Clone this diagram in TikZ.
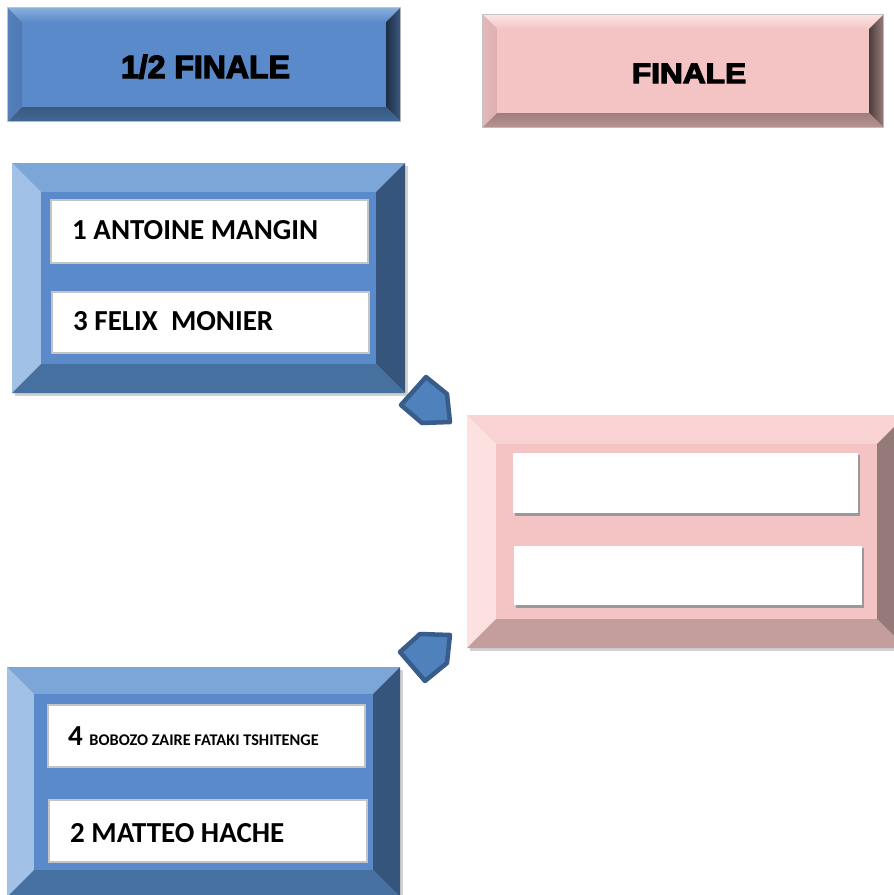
\documentclass[tikz,border=0pt]{standalone}
\usepackage{fontspec}
\setmainfont{Carlito}
\newfontfamily\blackfont{Liberation Sans Bold}[FakeBold=4]
\newcommand\bev[5]{%
 \fill[bvT] (#1,#2) -- (#3,#2) -- ({#3-#5},{#2+#5}) -- ({#1+#5},{#2+#5}) -- cycle;
 \fill[bvL] (#1,#2) -- ({#1+#5},{#2+#5}) -- ({#1+#5},{#4-#5}) -- (#1,#4) -- cycle;
 \fill[bvR] (#3,#2) -- (#3,#4) -- ({#3-#5},{#4-#5}) -- ({#3-#5},{#2+#5}) -- cycle;
 \fill[bvB] (#1,#4) -- (#3,#4) -- ({#3-#5},{#4-#5}) -- ({#1+#5},{#4-#5}) -- cycle;
 \fill[bvF] ({#1+#5},{#2+#5}) rectangle ({#3-#5},{#4-#5});
}
\newcommand\hbev[5]{%
 \shade[top color=bvT, bottom color=bvF] (#1,#2) -- (#3,#2) -- ({#3-#5},{#2+#5}) -- ({#1+#5},{#2+#5}) -- cycle;
 \shade[left color=bvL!60!bvF, right color=bvL] (#1,#2) -- ({#1+#5},{#2+#5}) -- ({#1+#5},{#4-#5}) -- (#1,#4) -- cycle;
 \shade[left color=bvR, right color=bvR!55!bvF] (#3,#2) -- (#3,#4) -- ({#3-#5},{#4-#5}) -- ({#3-#5},{#2+#5}) -- cycle;
 \shade[top color=bvB, bottom color=bvB!70!bvF] (#1,#4) -- (#3,#4) -- ({#3-#5},{#4-#5}) -- ({#1+#5},{#4-#5}) -- cycle;
 \fill[bvF] ({#1+#5},{#2+#5}) rectangle ({#3-#5},{#4-#5});
}
\definecolor{blueF}{HTML}{5A8ACA}
\definecolor{blueT}{HTML}{7BA6D7}
\definecolor{blueL}{HTML}{A2C1E6}
\definecolor{blueR}{HTML}{35557C}
\definecolor{blueB}{HTML}{45709F}
\definecolor{pinkF}{HTML}{F4C4C4}
\definecolor{pinkT}{HTML}{F9D3D3}
\definecolor{pinkL}{HTML}{FDE1E1}
\definecolor{pinkR}{HTML}{957A7A}
\definecolor{pinkB}{HTML}{C49D9D}
\definecolor{pentF}{HTML}{4F81BD}
\definecolor{pentD}{HTML}{385D8A}
\definecolor{frameG}{HTML}{C4C4C4}
\tikzset{
  wbox/.style={fill=white, draw=frameG, line width=1.5pt},
  nmtext/.style={anchor=base west, inner sep=0pt, font=\fontsize{29}{31}\selectfont\bfseries},
  hdtext/.style={anchor=base, inner sep=0pt},
  pent/.style={fill=pentF, draw=pentD, line width=4.5pt, line join=round},
  gshadow/.style={fill=black, opacity=.18}
}
\begin{document}
\begin{tikzpicture}[x=1pt,y=-1pt]
\useasboundingbox (0,0) rectangle (894,895);
\fill[white] (0,0) rectangle (894,895);
% header 1
\fill[frameG] (7,7) rectangle (401,122);
\colorlet{bvF}{blueF}\colorlet{bvT}{blueT!90!white}\colorlet{bvL}{blueF!88!black}\colorlet{bvR}{blueR!55!black}\colorlet{bvB}{blueB!80!black}
\hbev{8}{8}{400}{121}{14}
\node[hdtext, font=\blackfont\fontsize{32}{34}\selectfont] (h1) at (205.5,78) {1/2 FINALE};
% header 2
\fill[frameG] (482,14) rectangle (884,128);
\colorlet{bvF}{pinkF}\colorlet{bvT}{pinkT!60!white}\colorlet{bvL}{pinkF!90!black}\colorlet{bvR}{pinkR!50!black}\colorlet{bvB}{pinkB!80!black}
\hbev{483}{15}{883}{127}{14}
\node[hdtext, font=\blackfont\fontsize{28}{30}\selectfont] (h2) at (689,83) {\scalebox{1.13}[1]{FINALE}};
% group 1
\fill[gshadow] (15,166) rectangle (408,396);
\colorlet{bvF}{blueF}\colorlet{bvT}{blueT}\colorlet{bvL}{blueL}\colorlet{bvR}{blueR}\colorlet{bvB}{blueB}
\bev{12}{163}{405}{393}{29}
\draw[wbox] (51,200) rectangle (368,263) coordinate (w1);
\draw[wbox] (52,292) rectangle (369,353) coordinate (w2);
\node[nmtext] (n1) at (72,239) {1 ANTOINE MANGIN};
\node[nmtext] (n3) at (73,330) {3 FELIX\ \ MONIER};
% group 2
\fill[gshadow] (10,670) rectangle (403,900);
\bev{7}{667}{400}{897}{27}
\draw[wbox] (48,705) rectangle (365,767) coordinate (w3);
\draw[wbox] (49,800) rectangle (367,862) coordinate (w4);
\node[nmtext] (n4) at (68,745) {4 \fontsize{16.3}{18}\selectfont BOBOZO ZAIRE FATAKI TSHITENGE};
\node[nmtext] (n2) at (70,842) {2 MATTEO HACHE};
% final
\fill[gshadow] (470,418) rectangle (909,651);
\colorlet{bvF}{pinkF}\colorlet{bvT}{pinkT}\colorlet{bvL}{pinkL}\colorlet{bvR}{pinkR}\colorlet{bvB}{pinkB}
\bev{467}{415}{906}{648}{29}
\fill[black!40] (515,455) rectangle (860,516);
\fill[white] (513,453) rectangle (858,513) coordinate (f1);
\fill[black!40] (516,548) rectangle (864,608);
\fill[white] (514,546) rectangle (862,605) coordinate (f2);
% pentagons
\draw[pent] (426,377) -- (447,394) -- (450,422) -- (422,423) -- (401,405) -- cycle;
\draw[pent] (420,634) -- (450,635) -- (447,663) -- (425,681) -- (400,652) -- cycle;
\end{tikzpicture}
\end{document}
